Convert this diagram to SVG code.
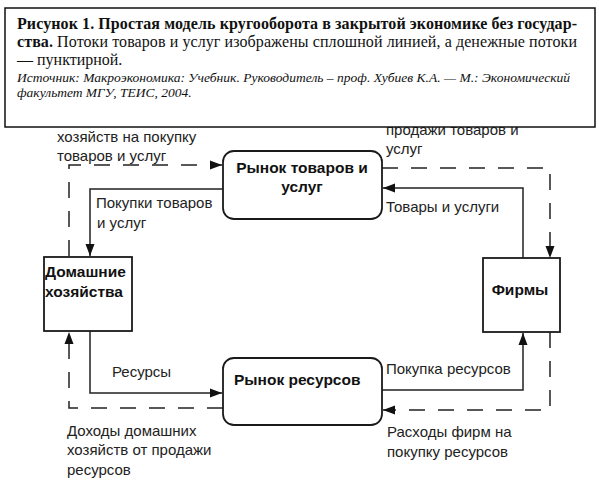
<svg xmlns="http://www.w3.org/2000/svg" width="599" height="495" viewBox="0 0 599 495">
<style>
.lbl{font-family:"Liberation Sans",Arial,sans-serif;font-size:15px;fill:#222}
.nl{font-family:"Liberation Sans",Arial,sans-serif;font-size:15.5px;font-weight:bold;fill:#111}
.cap{font-family:"Liberation Serif","Times New Roman",serif;font-size:16px;fill:#111}
.src{font-family:"Liberation Serif","Times New Roman",serif;font-size:13.5px;font-style:italic;fill:#111}
.box{fill:#fff;stroke:#1a1a1a;stroke-width:1.8}
.sol{fill:none;stroke:#222;stroke-width:1.5}
.dash{fill:none;stroke:#222;stroke-width:1.5;stroke-dasharray:16 13}
</style>
<defs>
<marker id="ah" markerUnits="userSpaceOnUse" markerWidth="13" markerHeight="11" refX="12" refY="5.5" orient="auto">
<path d="M0,1 L12,5.5 L0,10 Z" fill="#111"/>
</marker>
</defs>
<rect width="599" height="495" fill="#fff"/>
<g id="labels">
<text class="lbl" x="57" y="142">хозяйств на покупку</text>
<text class="lbl" x="57" y="161">товаров и услуг</text>
<text class="lbl" x="386" y="135">продажи товаров и</text>
<text class="lbl" x="386" y="154">услуг</text>
<text class="lbl" x="96" y="208">Покупки товаров</text>
<text class="lbl" x="97" y="228">и услуг</text>
<text class="lbl" x="386" y="212">Товары и услуги</text>
<text class="lbl" x="112" y="377">Ресурсы</text>
<text class="lbl" x="386" y="374">Покупка ресурсов</text>
<text class="lbl" x="67" y="436">Доходы домашних</text>
<text class="lbl" x="67" y="455">хозяйств от продажи</text>
<text class="lbl" x="67" y="475">ресурсов</text>
<text class="lbl" x="387" y="437">Расходы фирм на</text>
<text class="lbl" x="387" y="457">покупку ресурсов</text>
</g>
<g id="connectors">
<path class="dash" d="M69,256 V165 H222" marker-end="url(#ah)"/>
<path class="sol" d="M223,189 H90 V256" marker-end="url(#ah)"/>
<path class="dash" d="M382,168 H550 V258" marker-end="url(#ah)"/>
<path class="sol" d="M523,258 V188 H383" marker-end="url(#ah)"/>
<path class="sol" d="M90,331 V393 H222" marker-end="url(#ah)"/>
<path class="dash" d="M223,408 H69 V332" marker-end="url(#ah)"/>
<path class="sol" d="M382,390 H523 V333" marker-end="url(#ah)"/>
<path class="dash" d="M550,332 V410 H383" marker-end="url(#ah)"/>
</g>
<g id="market-goods">
<rect class="box" x="223" y="151" width="159" height="68" rx="11"/>
<text class="nl" x="302" y="173" text-anchor="middle">Рынок товаров и</text>
<text class="nl" x="302" y="192" text-anchor="middle">услуг</text>
</g>
<g id="households">
<rect class="box" x="44" y="257" width="88" height="74"/>
<text class="nl" x="45" y="277">Домашние</text>
<text class="nl" x="45" y="297">хозяйства</text>
</g>
<g id="firms">
<rect class="box" x="483" y="258" width="77" height="74"/>
<text class="nl" x="520" y="295" text-anchor="middle">Фирмы</text>
</g>
<g id="market-resources">
<rect class="box" x="223" y="358" width="159" height="67" rx="11"/>
<text class="nl" x="234" y="385">Рынок ресурсов</text>
</g>
<g id="caption">
<rect x="5" y="8" width="590" height="119" fill="#fff" stroke="#111" stroke-width="1.5"/>
<text class="cap" x="17" y="29" font-weight="bold" textLength="560" lengthAdjust="spacing">Рисунок 1. Простая модель кругооборота в закрытой экономике без государ-</text>
<text class="cap" x="17" y="47" textLength="560" lengthAdjust="spacing"><tspan font-weight="bold">ства.</tspan> Потоки товаров и услуг изображены сплошной линией, а денежные потоки</text>
<text class="cap" x="17" y="65">— пунктирной.</text>
<text class="src" x="17" y="82" textLength="553" lengthAdjust="spacing">Источник:  Макроэкономика: Учебник. Руководитель – проф. Хубиев К.А. — М.: Экономический</text>
<text class="src" x="17" y="97">факультет МГУ, ТЕИС, 2004.</text>
</g>
</svg>
